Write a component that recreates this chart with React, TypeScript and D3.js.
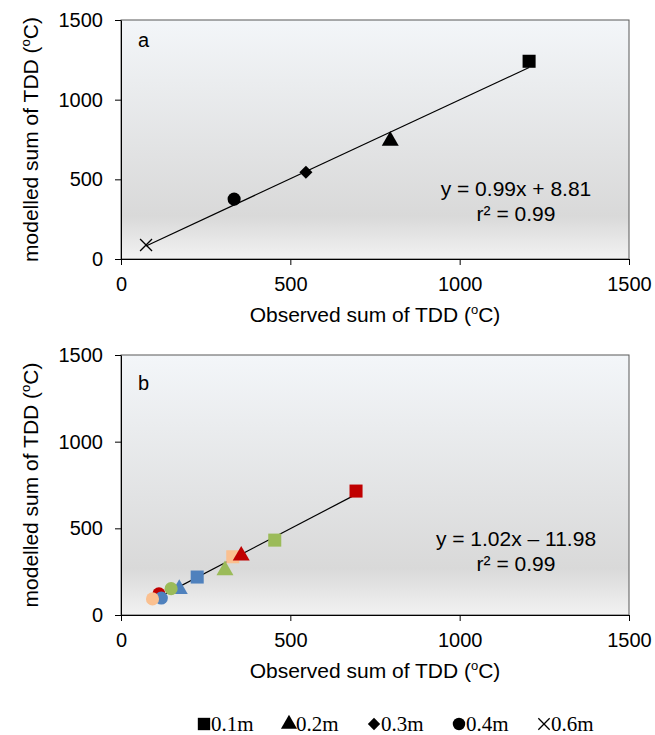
import { useEffect, useRef } from "react";
import * as d3 from "d3";

// depth classes (legend)
const depths = ["0.1m", "0.2m", "0.3m", "0.4m", "0.6m"];

// panel a: one point per depth
const obsA = [1205, 795, 546, 334, 74];
const modA = [1241, 742, 545, 376, 88];
const shapeA = ["0.1m", "0.2m", "0.3m", "0.4m", "0.6m"];

// panel b: sites (colour) x depth (shape)
const obsB = [694, 454, 330, 225, 355, 307, 172, 148, 112, 119, 93];
const modB = [715, 432, 336, 219, 342, 258, 150, 152, 122, 98, 93];
const shapeB = ["0.1m", "0.1m", "0.1m", "0.1m", "0.2m", "0.2m", "0.2m", "0.4m", "0.4m", "0.4m", "0.4m"];
const siteB = ["red", "green", "peach", "blue", "red", "green", "blue", "green", "red", "blue", "peach"];

const ticks = [0, 500, 1000, 1500];

const siteColor: Record<string, string> = {
  red: "#c00000",
  green: "#9bbb59",
  peach: "#fac090",
  blue: "#4f81bd",
};

const symbolFor: Record<string, any> = {
  "0.1m": d3.symbolSquare,
  "0.2m": d3.symbolTriangle,
  "0.3m": d3.symbolSquare, // rotated 45deg below
  "0.4m": d3.symbolCircle,
  "0.6m": d3.symbolX,
};
const sizeFor: Record<string, number> = {
  "0.1m": 170,
  "0.2m": 125,
  "0.3m": 85,
  "0.4m": 135,
  "0.6m": 95,
};

const FONT = "'Liberation Sans', Arial, sans-serif";

function App() {
  const ref = useRef<SVGSVGElement>(null);

  useEffect(() => {
    const svg = d3.select(ref.current);
    svg.selectAll("*").remove();

    const defs = svg.append("defs");
    const grad = defs
      .append("linearGradient")
      .attr("id", "bg")
      .attr("x1", 0)
      .attr("y1", 0)
      .attr("x2", 0)
      .attr("y2", 1);
    grad.append("stop").attr("offset", "0%").attr("stop-color", "#f3f6f9");
    grad.append("stop").attr("offset", "82%").attr("stop-color", "#d9d9d9");
    grad.append("stop").attr("offset", "100%").attr("stop-color", "#f2f2f2");

    const left = 121,
      right = 629;

    const marker = (g: any, s: string, cx: number, cy: number, col: string, k = 1) => {
      const isX = s === "0.6m";
      const rot = s === "0.3m" ? " rotate(45)" : "";
      g.append("path")
        .attr("transform", `translate(${cx},${cy})${rot}`)
        .attr("d", d3.symbol(symbolFor[s], sizeFor[s] * k)() as string)
        .attr("fill", isX ? "none" : col)
        .attr("stroke", isX ? col : "none")
        .attr("stroke-width", 1.3);
    };

    const panel = (
      top: number,
      bottom: number,
      letter: string,
      letterY: number,
      xs: number[],
      ys: number[],
      shapes: string[],
      colors: string[],
      slope: number,
      icpt: number,
      eq: string,
      eqY: number,
      titleY: number
    ) => {
      const x = d3.scaleLinear().domain([0, 1500]).range([left, right]);
      const y = d3.scaleLinear().domain([0, 1500]).range([bottom, top]);
      const g = svg.append("g");

      g.append("rect")
        .attr("x", left)
        .attr("y", top)
        .attr("width", right - left)
        .attr("height", bottom - top)
        .attr("fill", "url(#bg)")
        .attr("stroke", "#595959")
        .attr("stroke-width", 1);

      const ax = g
        .append("g")
        .attr("transform", `translate(0,${bottom})`)
        .call(
          d3.axisBottom(x).tickValues(ticks).tickFormat(d3.format("d")).tickSize(6).tickSizeOuter(0).tickPadding(12)
        );
      const ay = g
        .append("g")
        .attr("transform", `translate(${left},0)`)
        .call(
          d3.axisLeft(y).tickValues(ticks).tickFormat(d3.format("d")).tickSize(6).tickSizeOuter(0).tickPadding(12)
        );
      [ax, ay].forEach((a) => {
        a.select(".domain").attr("stroke", "#000");
        a.selectAll("line").attr("stroke", "#000");
        a.selectAll("text")
          .attr("font-family", FONT)
          .attr("font-size", 20)
          .attr("fill", "#000");
      });

      // fit line
      const x0 = d3.min(xs) as number,
        x1 = d3.max(xs) as number;
      g.append("line")
        .attr("x1", x(x0))
        .attr("y1", y(slope * x0 + icpt))
        .attr("x2", x(x1))
        .attr("y2", y(slope * x1 + icpt))
        .attr("stroke", "#000")
        .attr("stroke-width", 1.2);

      xs.forEach((v, i) => marker(g, shapes[i], x(v), y(ys[i]), colors[i]));

      g.append("text")
        .attr("x", 138)
        .attr("y", letterY)
        .attr("font-family", FONT)
        .attr("font-size", 20)
        .text(letter);

      const eqG = g.append("text").attr("font-family", FONT).attr("font-size", 21).attr("text-anchor", "middle");
      eqG.append("tspan").attr("x", 516).attr("y", eqY).text(eq);
      eqG.append("tspan").attr("x", 516).attr("y", eqY + 25).text("r² = 0.99");

      // axis titles
      const xt = g
        .append("text")
        .attr("x", (left + right) / 2)
        .attr("y", titleY)
        .attr("text-anchor", "middle")
        .attr("font-family", FONT)
        .attr("font-size", 21);
      xt.append("tspan").text("Observed sum of TDD (");
      xt.append("tspan").attr("font-size", 13).attr("dy", -8).text("o");
      xt.append("tspan").attr("dy", 8).text("C)");

      const yt = g
        .append("text")
        .attr("transform", `translate(38,${(top + bottom) / 2}) rotate(-90)`)
        .attr("text-anchor", "middle")
        .attr("font-family", FONT)
        .attr("font-size", 21);
      yt.append("tspan").text("modelled sum of TDD (");
      yt.append("tspan").attr("font-size", 13).attr("dy", -8).text("o");
      yt.append("tspan").attr("dy", 8).text("C)");
    };

    panel(20, 259, "a", 47, obsA, modA, shapeA, shapeA.map(() => "#000"), 0.99, 8.81, "y = 0.99x + 8.81", 196, 322);
    panel(
      355,
      615,
      "b",
      390,
      obsB,
      modB,
      shapeB,
      siteB.map((s) => siteColor[s]),
      1.02,
      -11.98,
      "y = 1.02x – 11.98",
      546,
      678
    );

    // legend
    const leg = svg.append("g").attr("transform", "translate(0,724)");
    const legX = d3.scalePoint().domain(depths).range([204, 544]);
    depths.forEach((d) => {
      const cx = legX(d) as number;
      marker(leg, d, cx, 0, "#000", 0.9);
      leg
        .append("text")
        .attr("x", cx + 7)
        .attr("y", 7)
        .attr("font-family", "'Liberation Serif', 'Times New Roman', serif")
        .attr("font-size", 21)
        .text(d);
    });
  }, []);

  return (
    <svg
      ref={ref}
      width={655}
      height={735}
      style={{ position: "absolute", left: 0, top: 0, background: "#fff" }}
    />
  );
}

export default App;
